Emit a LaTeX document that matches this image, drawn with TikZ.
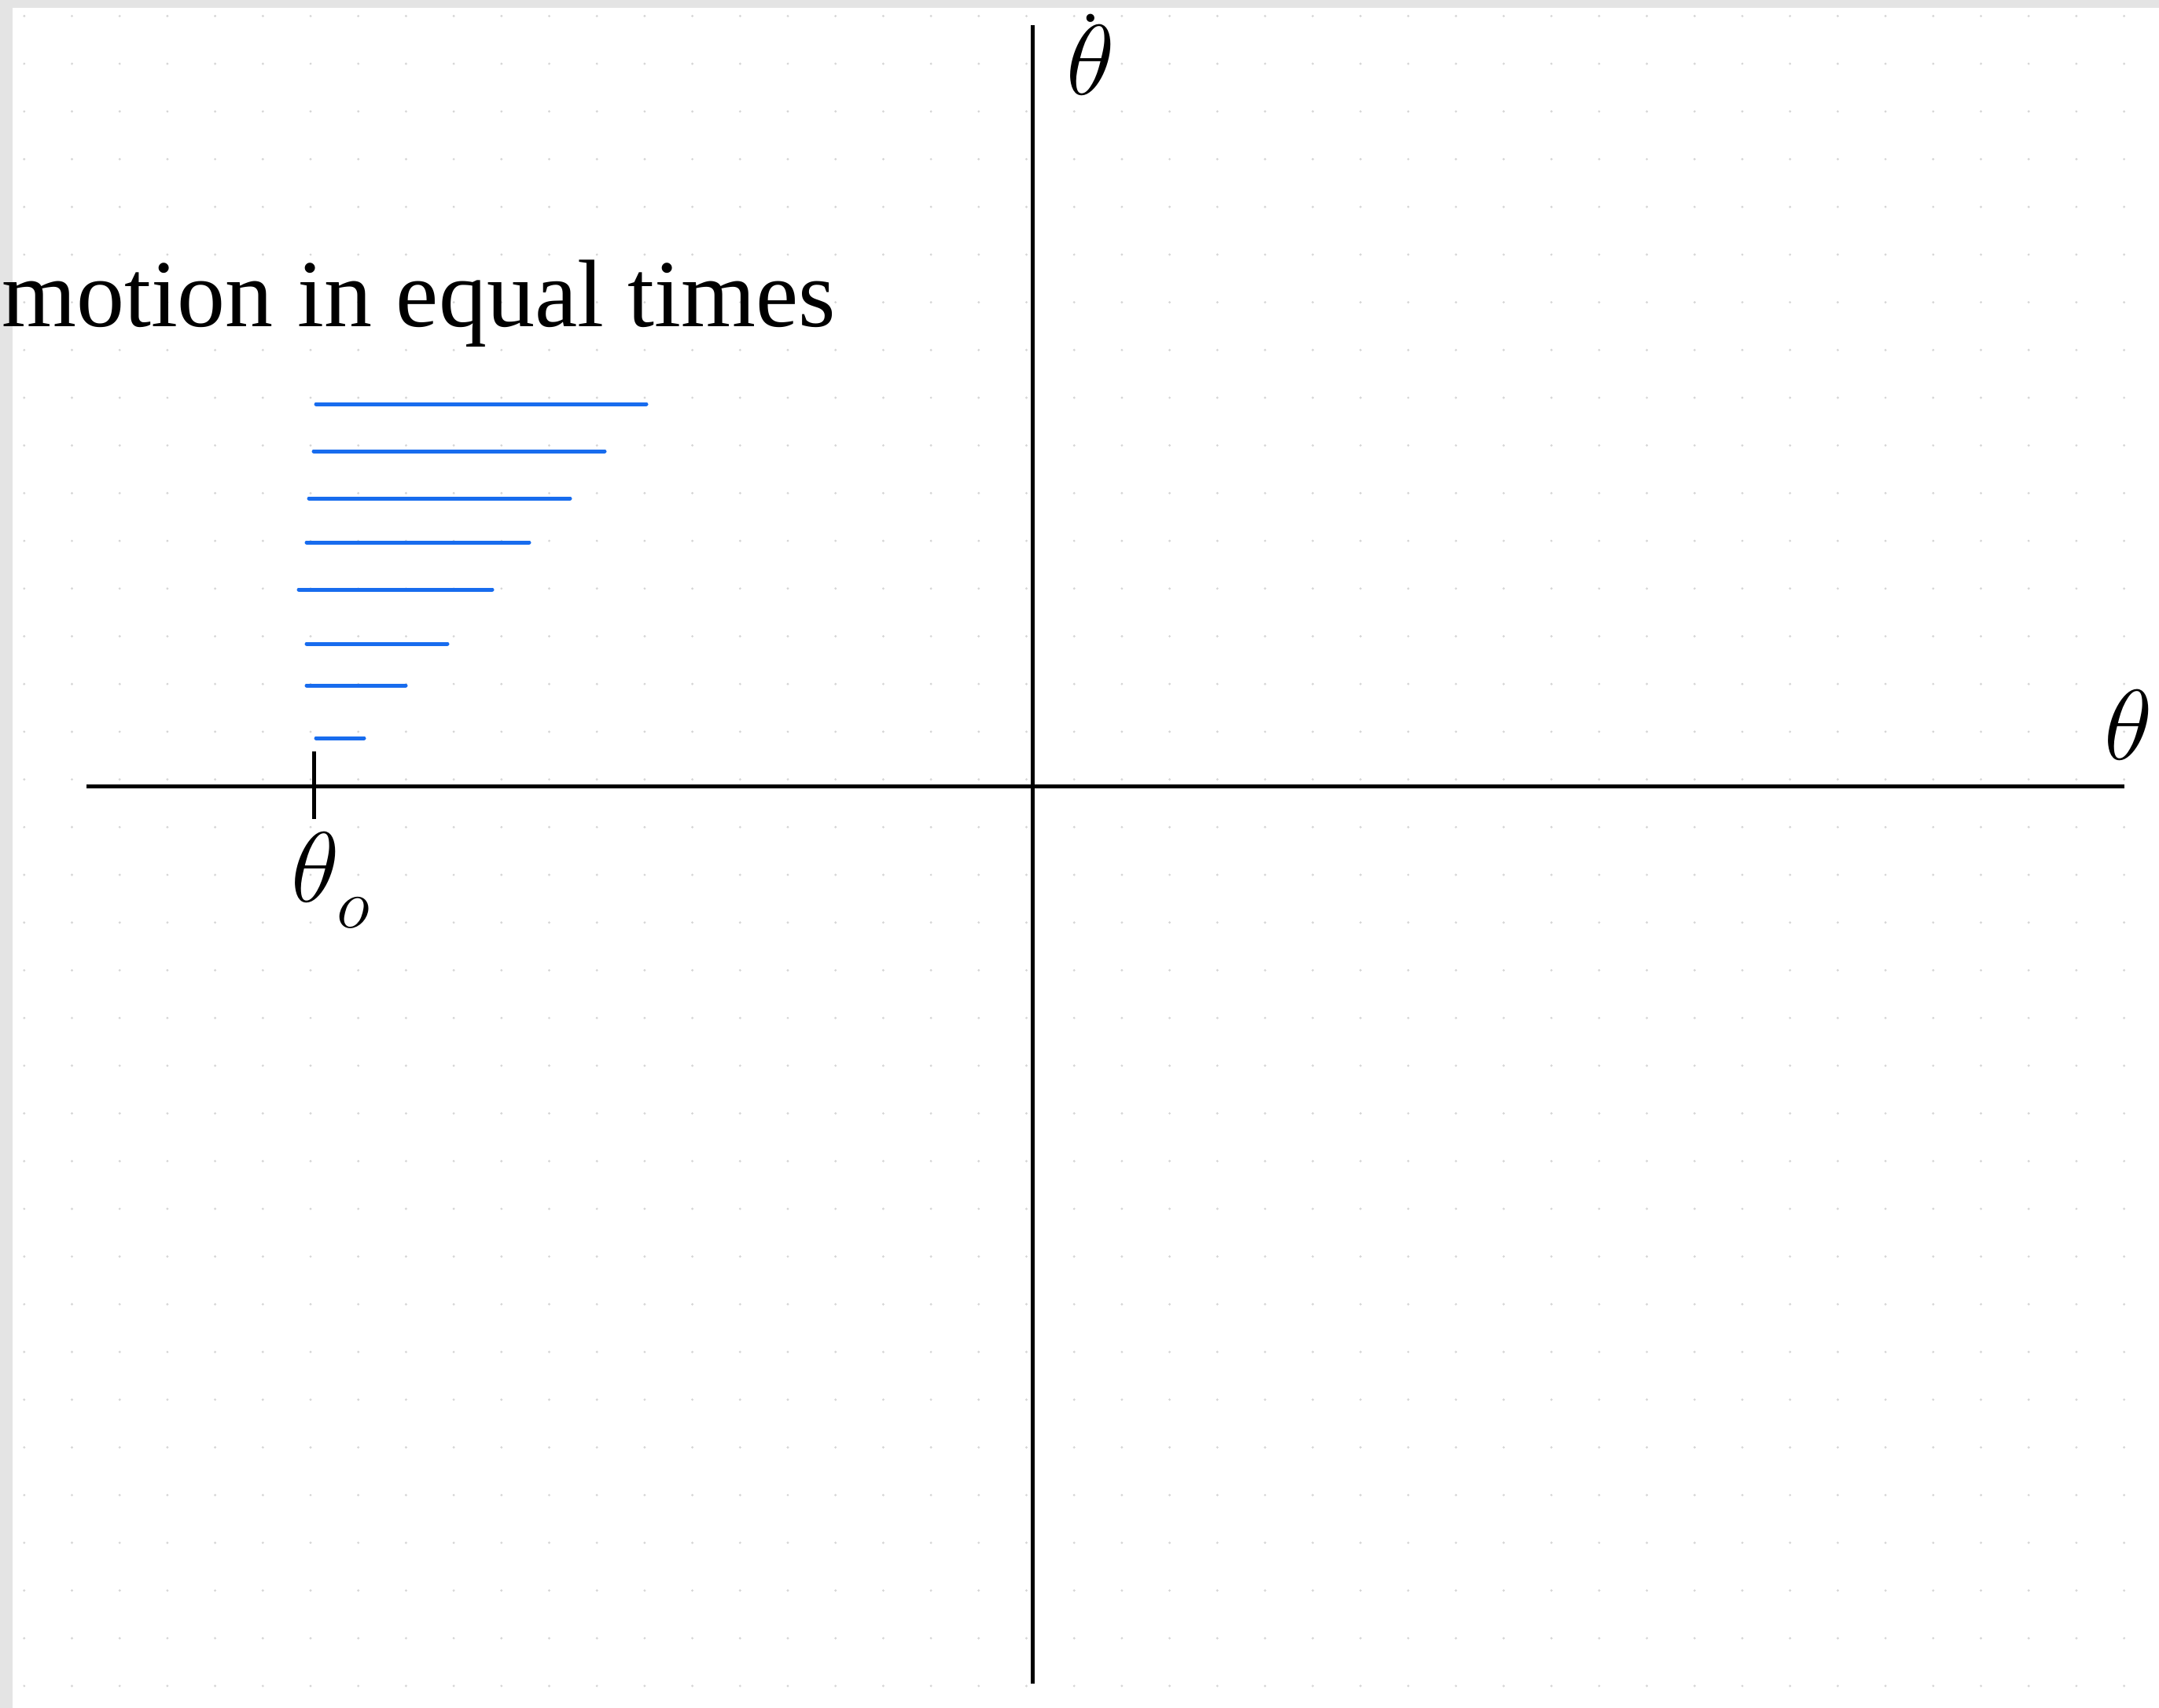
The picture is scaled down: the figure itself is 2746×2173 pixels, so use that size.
\RequirePackage{fix-cm}
\documentclass[tikz,border=0pt]{standalone}
\usepackage{fontspec}
\setmainfont{Liberation Serif}
\definecolor{swingblue}{RGB}{24,108,238}
\definecolor{framegray}{RGB}{228,228,228}

\begin{document}
\begin{tikzpicture}[x=1pt, y=-1pt,
    axis/.style={line width=5pt, draw=black},
    swing/.style={line width=5pt, draw=swingblue, line cap=round},
    griddot/.style={fill=black!16},
    lbl/.style={inner sep=0pt, font=\fontsize{127}{150}\selectfont},
    caption/.style={inner sep=0pt, font=\fontsize{122}{146}\selectfont}
]
    \useasboundingbox (0,0) rectangle (2746,2173);
    \fill[white] (0,0) rectangle (2746,2173);
    \fill[framegray] (0,0) rectangle (2746,10);
    \fill[framegray] (0,0) rectangle (16,2173);
    \foreach \i in {0,...,44}
        \foreach \j in {0,...,35}
            \fill[griddot] ({30.8+60.7*\i},{20.4+60.7*\j}) circle (1.6);

    \coordinate (xleft) at (110,1000);
    \coordinate (xright) at (2702,1000);
    \coordinate (ytop) at (1313,32);
    \coordinate (ybottom) at (1313,2142);
    \coordinate (ticktop) at (399,956);
    \coordinate (tickbottom) at (399,1042);

    \draw[axis] (xleft) -- (xright);
    \draw[axis] (ybottom) -- (ytop);
    \draw[axis] (ticktop) -- (tickbottom);

    \foreach \y/\a/\b in {514/402/822, 574/399/769, 634/393/725, 690/390/673,
                          750/380/626, 819/390/569, 872/390/516, 939/402/463}
        \draw[swing] (\a,\y) -- (\b,\y);

    \node[caption, anchor=base east] (title) at (1063,415) {motion in equal times};
    \node[lbl, anchor=base] (thetadot) at (1387,121) {$\dot{\raisebox{0pt}[74pt]{$\theta$}}$};
    \node[lbl, anchor=base] (theta) at (2707,966) {$\theta$};
    \node[lbl, anchor=base west] (thetazero) at (370,1147) {$\theta_{\lower14pt\hbox{$\scriptstyle o$}}$};
\end{tikzpicture}
\end{document}
